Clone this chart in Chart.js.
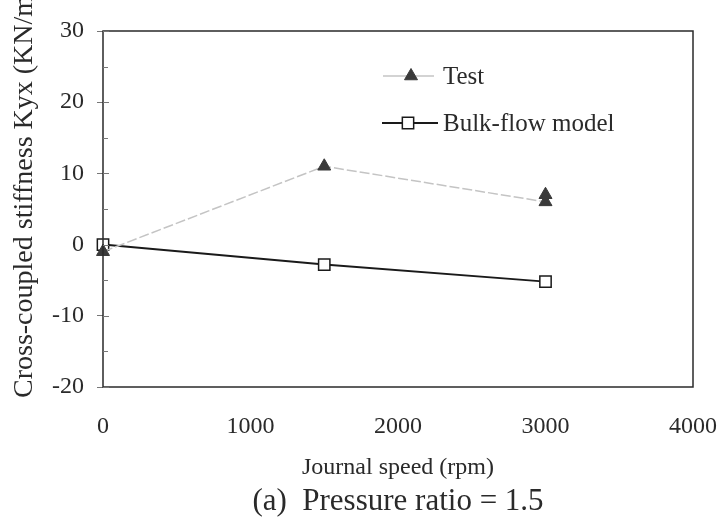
<!DOCTYPE html>
<html>
<head>
<meta charset="utf-8">
<script src="https://cdn.jsdelivr.net/npm/chart.js@4"></script>
<style>
  html, body { margin: 0; padding: 0; background: #ffffff; }
  #wrap { width: 724px; height: 520px; }
</style>
</head>
<body>
<div id="wrap"><canvas id="kyxChart" width="724" height="520"></canvas></div>
<script>
// === Data ===
const testSpeed = [0, 1500, 3000, 3000];
const testKyx = [-1, 11, 6, 7];
const bulkSpeed = [0, 1500, 3000];
const bulkKyx = [0, -2.8, -5.2];
const xTicks = [0, 1000, 2000, 3000, 4000];
const yTicks = [-20, -10, 0, 10, 20, 30];
const yMinorTicks = [-15, -5, 5, 15, 25];
const yTitle = "Cross-coupled stiffness Kyx (KN/m)";

const serif = "'Liberation Serif', 'DejaVu Serif', serif";
const ink = "#2a2a2a";

// legend inside the plot + frame + inner ticks + rotated y title
const figureExtras = {
  id: "figureExtras",
  afterDraw(chart) {
    const ctx = chart.ctx;
    const a = chart.chartArea;
    const yScale = chart.scales.y;
    ctx.save();
    // frame round the plot
    ctx.strokeStyle = ink;
    ctx.lineWidth = 1.5;
    ctx.strokeRect(a.left, a.top, a.right - a.left, a.bottom - a.top);

    // inner tick marks on the y axis
    ctx.strokeStyle = "#777777";
    ctx.lineWidth = 1;
    yTicks.concat(yMinorTicks).forEach((v) => {
      const py = Math.round(yScale.getPixelForValue(v)) + 0.5;
      const len = yTicks.includes(v) ? 6 : 5;
      ctx.beginPath();
      ctx.moveTo(a.left, py);
      ctx.lineTo(a.left + len, py);
      ctx.stroke();
    });

    // legend
    const rows = [
      { ds: 0, x0: 383, x1: 434, mx: 411, y: 76, tx: 443 },
      { ds: 1, x0: 382, x1: 438, mx: 408, y: 123, tx: 443 },
    ];
    rows.forEach((r) => {
      const ds = chart.data.datasets[r.ds];
      ctx.strokeStyle = ds.borderColor;
      ctx.lineWidth = ds.borderWidth;
      ctx.setLineDash([]);
      ctx.beginPath();
      ctx.moveTo(r.x0, r.y);
      ctx.lineTo(r.x1, r.y);
      ctx.stroke();
      ctx.fillStyle = ds.pointBackgroundColor;
      ctx.strokeStyle = ds.pointBorderColor;
      ctx.lineWidth = ds.pointBorderWidth;
      Chart.helpers.drawPoint(ctx, {
        pointStyle: ds.pointStyle,
        radius: ds.pointRadius,
        borderWidth: ds.pointBorderWidth,
      }, r.mx, r.y);
      ctx.fillStyle = ink;
      ctx.font = "25px " + serif;
      ctx.textAlign = "left";
      ctx.textBaseline = "middle";
      ctx.fillText(ds.label, r.tx, r.y + 1);
    });

    // y axis title, starts near the bottom and runs off the top edge
    ctx.translate(25, 398);
    ctx.rotate(-Math.PI / 2);
    ctx.fillStyle = ink;
    ctx.font = "28px " + serif;
    ctx.textAlign = "left";
    ctx.textBaseline = "middle";
    ctx.fillText(yTitle, 0, 0);
    ctx.restore();
  },
};

new Chart(document.getElementById("kyxChart"), {
  type: "scatter",
  data: {
    datasets: [
      {
        label: "Test",
        data: testSpeed.map((s, i) => ({ x: s, y: testKyx[i] })),
        showLine: true,
        clip: false,
        borderColor: "#c4c4c4",
        borderWidth: 1.5,
        borderDash: [10, 3],
        pointStyle: "triangle",
        pointRadius: 7.5,
        pointBorderWidth: 1,
        pointBackgroundColor: "#3a3a3a",
        pointBorderColor: "#3a3a3a",
      },
      {
        label: "Bulk-flow model",
        data: bulkSpeed.map((s, i) => ({ x: s, y: bulkKyx[i] })),
        showLine: true,
        clip: false,
        borderColor: "#1a1a1a",
        borderWidth: 2,
        pointStyle: "rect",
        pointRadius: 8,
        pointBorderWidth: 1.5,
        pointBackgroundColor: "#ffffff",
        pointBorderColor: "#1a1a1a",
      },
    ],
  },
  options: {
    responsive: false,
    animation: false,
    layout: { padding: { top: 31, right: 31, left: 0, bottom: 0 } },
    plugins: {
      legend: { display: false },
      tooltip: { enabled: false },
      title: {
        display: true,
        position: "bottom",
        fullSize: false,
        text: "(a)  Pressure ratio = 1.5",
        color: ink,
        font: { family: serif, size: 31, weight: "normal" },
        padding: { top: 0, bottom: 0 },
      },
    },
    scales: {
      x: {
        type: "linear",
        min: 0,
        max: 4000,
        afterBuildTicks: (s) => { s.ticks = xTicks.map((v) => ({ value: v })); },
        afterFit: (s) => {
          s.height = 520 - 387 - 37.2;
          s.paddingLeft = 0;
          s.paddingRight = 0;
        },
        grid: { display: false },
        border: { display: false },
        ticks: {
          color: ink,
          font: { family: serif, size: 24 },
          padding: 17,
          maxRotation: 0,
          callback: (v) => String(v),
        },
        title: {
          display: true,
          text: "Journal speed (rpm)",
          color: ink,
          font: { family: serif, size: 24 },
          padding: { top: 0, bottom: 1 },
        },
      },
      y: {
        type: "linear",
        min: -20,
        max: 30,
        afterBuildTicks: (s) => { s.ticks = yTicks.map((v) => ({ value: v })); },
        afterFit: (s) => {
          s.width = 103;
          s.paddingTop = 0;
          s.paddingBottom = 0;
        },
        grid: {
          drawOnChartArea: false,
          drawTicks: true,
          tickLength: 6,
          color: "#777777",
        },
        border: { display: false },
        ticks: {
          color: ink,
          font: { family: serif, size: 24 },
          padding: 13,
          callback: (v) => String(v),
        },
      },
    },
  },
  plugins: [figureExtras],
});
</script>
</body>
</html>
